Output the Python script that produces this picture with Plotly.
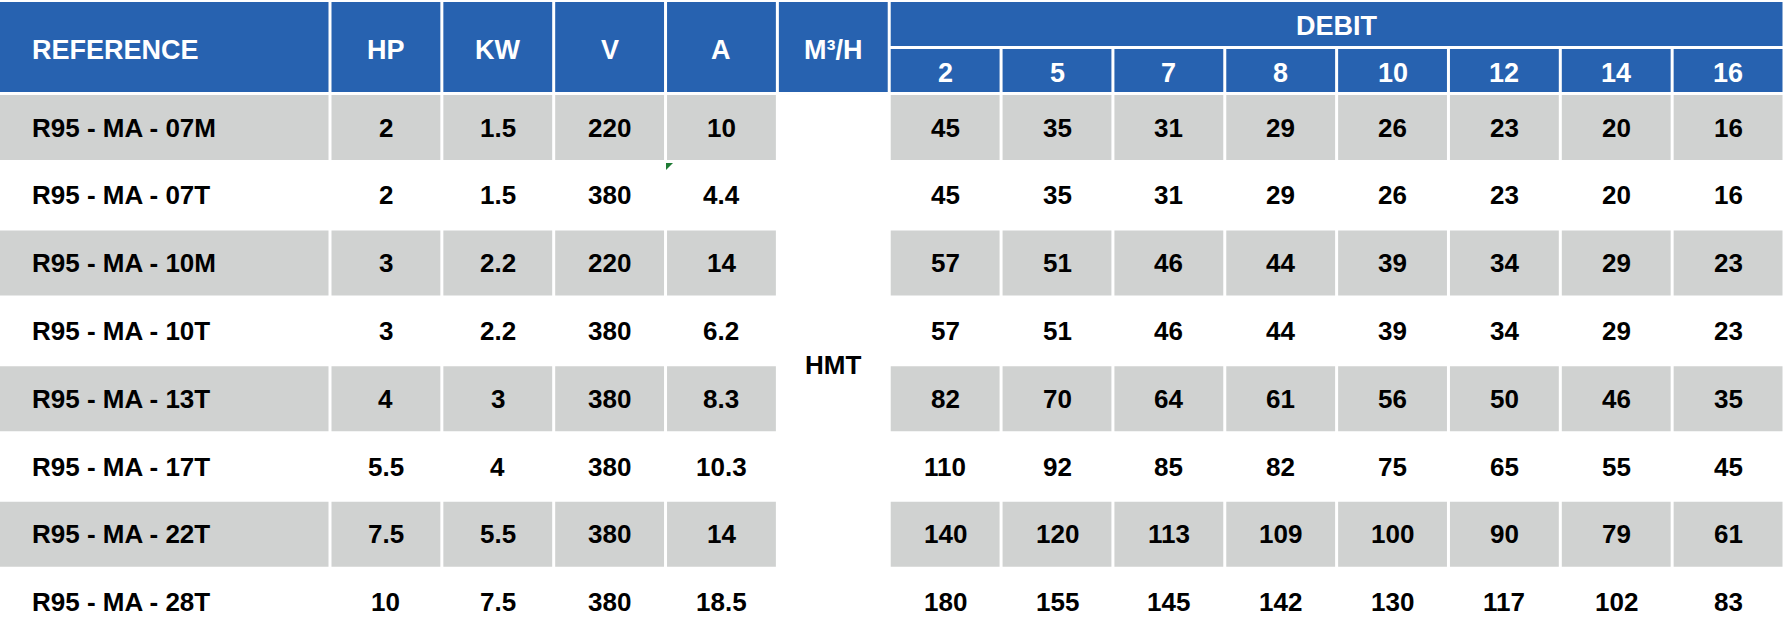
import plotly.graph_objects as go

# table data
references = ["R95 - MA - 07M", "R95 - MA - 07T", "R95 - MA - 10M", "R95 - MA - 10T",
              "R95 - MA - 13T", "R95 - MA - 17T", "R95 - MA - 22T", "R95 - MA - 28T"]
hp = [2, 2, 3, 3, 4, 5.5, 7.5, 10]
kw = [1.5, 1.5, 2.2, 2.2, 3, 4, 5.5, 7.5]
volts = [220, 380, 220, 380, 380, 380, 380, 380]
amps = [10, 4.4, 14, 6.2, 8.3, 10.3, 14, 18.5]
debits = [2, 5, 7, 8, 10, 12, 14, 16]
hmt = [
    [45, 35, 31, 29, 26, 23, 20, 16],
    [45, 35, 31, 29, 26, 23, 20, 16],
    [57, 51, 46, 44, 39, 34, 29, 23],
    [57, 51, 46, 44, 39, 34, 29, 23],
    [82, 70, 64, 61, 56, 50, 46, 35],
    [110, 92, 85, 82, 75, 65, 55, 45],
    [140, 120, 113, 109, 100, 90, 79, 61],
    [180, 155, 145, 142, 130, 117, 102, 83],
]
headers = ["REFERENCE", "HP", "KW", "V", "A", "M³/H"]

W, H = 1784, 634
BLUE = "#2762B0"
GRAY = "#D0D2D1"
FONT = "Arial, Liberation Sans, sans-serif"

# column edges
step = (W - 330) / 13
edges = [0, 330] + [330 + step * k for k in range(1, 14)]


def col_span(c):
    x0 = edges[c] + (1.5 if c > 0 else 0)
    x1 = edges[c + 1] - 1.5
    return x0, x1


def col_mid(c):
    x0, x1 = col_span(c)
    return (x0 + x1) / 2


ROW_TOP, ROW_STEP, ROW_H = 95, 67.8, 65

fig = go.Figure()
shapes = []
annots = []


def rect(x0, y0, x1, y1, color):
    shapes.append(dict(type="rect", xref="x", yref="y", x0=x0, x1=x1, y0=y0, y1=y1,
                       fillcolor=color, line=dict(width=0), layer="below"))


def text(x, y, s, color="black", anchor="center", size=26):
    annots.append(dict(x=x, y=y, xref="x", yref="y", text=s, showarrow=False,
                       xanchor=anchor, yanchor="middle",
                       font=dict(family=FONT, size=size, color=color, weight="bold")))


# header
for c, h in enumerate(headers):
    x0, x1 = col_span(c)
    rect(x0, 2, x1, 92, BLUE)
    if c == 0:
        text(30, 50, h, "white", "left", 27)
    else:
        text(col_mid(c), 50, h, "white", size=27)

rect(edges[6] + 1.5, 2, W - 1.5, 46, BLUE)
text((edges[6] + W) / 2, 26, "DEBIT", "white", size=27)
for j, d in enumerate(debits):
    c = 6 + j
    x0, x1 = col_span(c)
    rect(x0, 49, x1, 92, BLUE)
    text(col_mid(c), 73, str(d), "white", size=27)

# body
for i, ref in enumerate(references):
    y0 = ROW_TOP + ROW_STEP * i
    y1 = y0 + ROW_H
    ym = (y0 + y1) / 2
    if i % 2 == 0:
        for c in range(14):
            if c == 5:
                continue
            x0, x1 = col_span(c)
            rect(x0, y0, x1, y1, GRAY)
    text(30, ym, ref, anchor="left")
    for c, v in zip(range(1, 5), [hp[i], kw[i], volts[i], amps[i]]):
        text(col_mid(c), ym, str(v))
    for j, v in enumerate(hmt[i]):
        text(col_mid(6 + j), ym, str(v))

# merged HMT label
first = ROW_TOP
last = ROW_TOP + ROW_STEP * (len(references) - 1) + ROW_H
text(col_mid(5), (first + last) / 2, "HMT")

# small excel comment marker
shapes.append(dict(type="path", xref="x", yref="y",
                   path="M 666 163 L 673 163 L 666 170 Z",
                   fillcolor="#1E7B34", line=dict(width=0)))

fig.add_trace(go.Scatter(x=[0, W], y=[0, H], mode="markers",
                         marker=dict(opacity=0), hoverinfo="skip", showlegend=False))

fig.update_layout(
    width=W, height=H,
    margin=dict(l=0, r=0, t=0, b=0),
    paper_bgcolor="white", plot_bgcolor="white",
    shapes=shapes, annotations=annots,
    xaxis=dict(range=[0, W], visible=False, fixedrange=True),
    yaxis=dict(range=[H, 0], visible=False, fixedrange=True),
)

# drop the default page margin so the table sits flush in the window
fig.write_html("out.html", config={"displayModeBar": False},
               post_script="document.body.style.margin='0';")
